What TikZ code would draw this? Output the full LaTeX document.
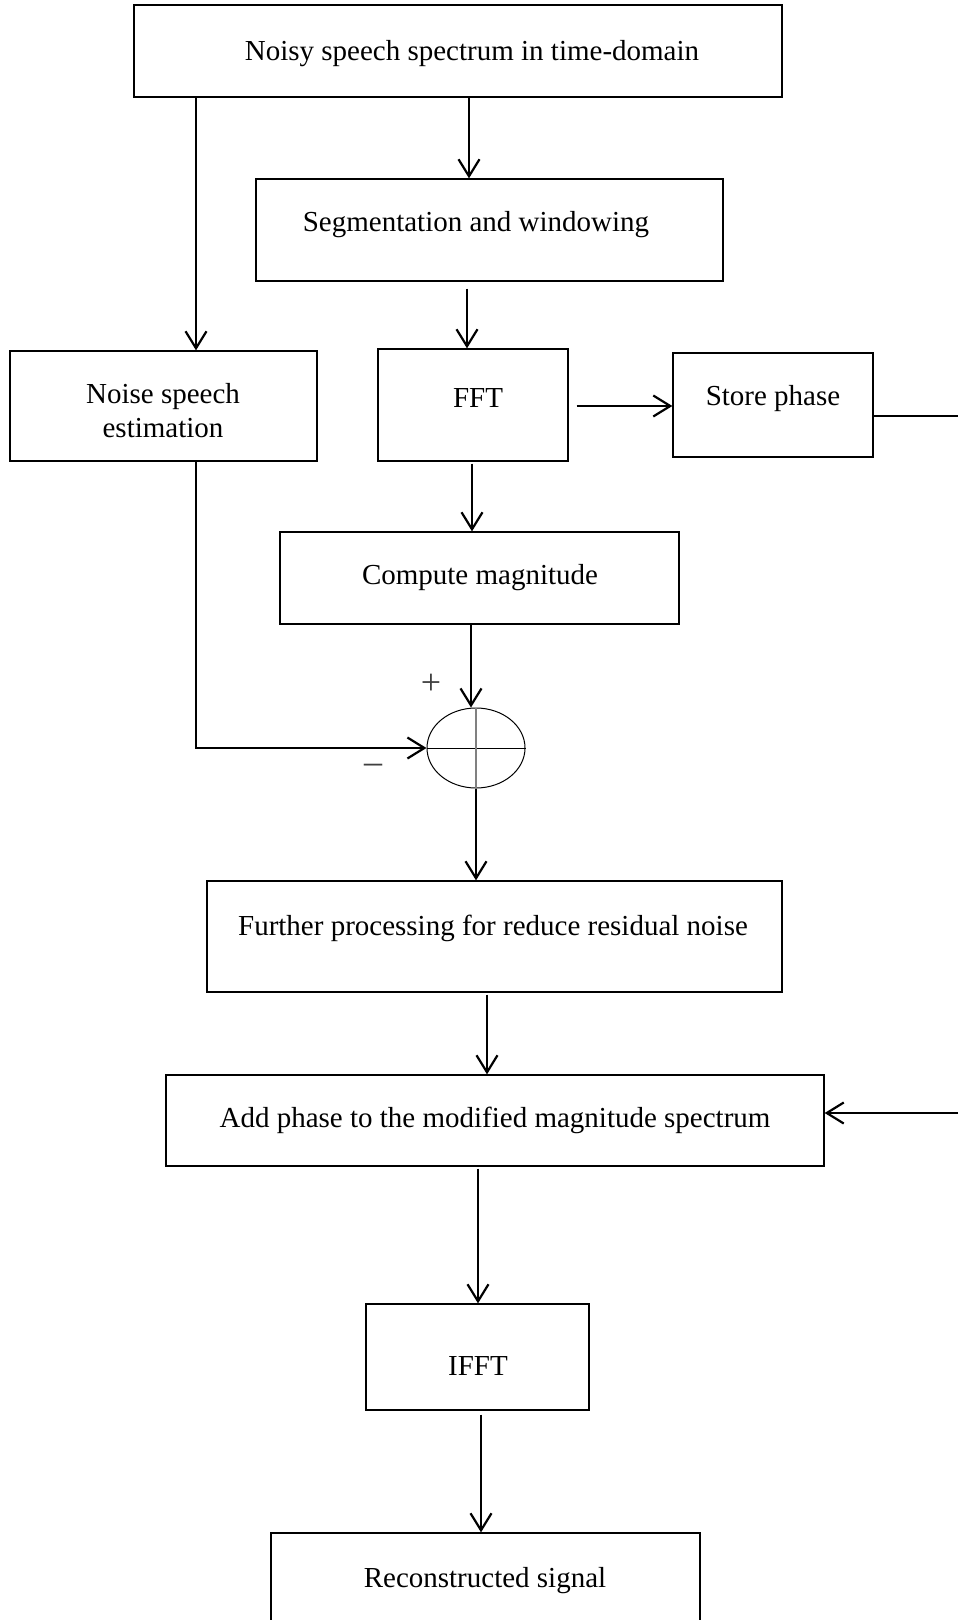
\documentclass[tikz,border=0pt]{standalone}
\usepackage{fontspec}
\setmainfont{Liberation Serif}
\usetikzlibrary{arrows.meta,shapes.geometric,calc}
\begin{document}
\begin{tikzpicture}[x=0.5pt,y=-0.5pt,
 box/.style={draw, line width=0.65pt, inner sep=0pt},
 lbl/.style={font=\fontsize{14.5}{17}\selectfont, inner sep=0pt, align=center},
 sign/.style={font=\fontsize{18}{20}\selectfont, inner sep=0pt, text=black!75},
 arr/.style={line width=1.2pt, -{Straight Barb[length=8.5pt,width=10.5pt,line width=1.1pt]}},
 ln/.style={line width=1.2pt}]
\useasboundingbox (0,0) rectangle (958,1620);
\clip (0,0) rectangle (958,1620);
% boxes
\node[box, minimum width=324pt, minimum height=46pt] (top) at (458,51) {};
\node[box, minimum width=233.5pt, minimum height=51pt] (seg) at (489.5,230) {};
\node[box, minimum width=153.5pt, minimum height=55pt] (noise) at (163.5,406) {};
\node[box, minimum width=95pt, minimum height=56pt] (fft) at (473,405) {};
\node[box, minimum width=100pt, minimum height=52pt] (store) at (773,405) {};
\node[box, minimum width=199.5pt, minimum height=46pt] (mag) at (479.5,578) {};
\node[draw, ellipse, line width=0.5pt, inner sep=0pt, minimum width=49pt, minimum height=40pt] (sum) at (476,748) {};
\node[box, minimum width=287.5pt, minimum height=55.5pt] (further) at (494.5,936.5) {};
\node[box, minimum width=329pt, minimum height=45.5pt] (addphase) at (495,1120.5) {};
\node[box, minimum width=111.5pt, minimum height=53pt] (ifft) at (477.5,1357) {};
\node[box, minimum width=214.5pt, minimum height=83.5pt] (rec) at (485.5,1616.5) {};
% texts
\node[lbl] (ttop) at (472,54) {Noisy speech spectrum in time-domain};
\node[lbl] (tseg) at (476,225) {Segmentation and windowing};
\node[lbl] (tnoise) at (163,411) {Noise speech\\estimation};
\node[lbl] (tfft) at (478,398) {FFT};
\node[lbl] (tstore) at (773,399) {Store phase};
\node[lbl] (tmag) at (480,578) {Compute magnitude};
\node[lbl] (tfur) at (493,928) {Further processing for reduce residual noise};
\node[lbl] (tadd) at (495,1120) {Add phase to the modified magnitude spectrum};
\node[lbl] (tifft) at (478,1366) {IFFT};
\node[lbl] (trec) at (485,1581) {Reconstructed signal};
\node[sign] (plus) at (431,684) {+};
\node[sign] (minus) at (373,769) {–};
% summing cross
\draw[line width=0.5pt] (sum.west) -- (sum.east);
\draw[gray, line width=0.6pt] (sum.north) -- (sum.south);
% columns / rows
\coordinate (cL) at (196,0);
\coordinate (c1) at (469,0);
\coordinate (c2) at (467,0);
\coordinate (c3) at (472,0);
\coordinate (c4) at (471,0);
\coordinate (c6) at (487,0);
\coordinate (c7) at (478,0);
\coordinate (c8) at (481,0);
\coordinate (r0) at (0,406);
\coordinate (e1) at (958,416);
\coordinate (e2) at (958,1113);
% connectors
\draw[arr] (top.south -| cL) -- (noise.north -| cL);
\draw[arr] (top.south -| c1) -- (seg.north -| c1);
\draw[arr, shorten <=3.5pt] (seg.south -| c2) -- (fft.north -| c2);
\draw[arr, shorten <=1pt] (fft.south -| c3) -- (mag.north -| c3);
\draw[arr] (mag.south -| c4) -- (sum.north -| c4);
\draw[arr] (noise.south -| cL) |- (sum.west);
\draw[arr] (sum.south) -- (further.north -| sum.south);
\draw[arr, shorten <=1pt] (further.south -| c6) -- (addphase.north -| c6);
\draw[arr, shorten <=1pt] (addphase.south -| c7) -- (ifft.north -| c7);
\draw[arr, shorten <=2pt] (ifft.south -| c8) -- (rec.north -| c8);
\draw[arr, shorten <=4pt] (fft.east |- r0) -- (store.west |- r0);
\draw[ln] (store.east |- e1) -- (e1);
\draw[arr] (e2) -- (addphase.east |- e2);
\end{tikzpicture}
\end{document}
